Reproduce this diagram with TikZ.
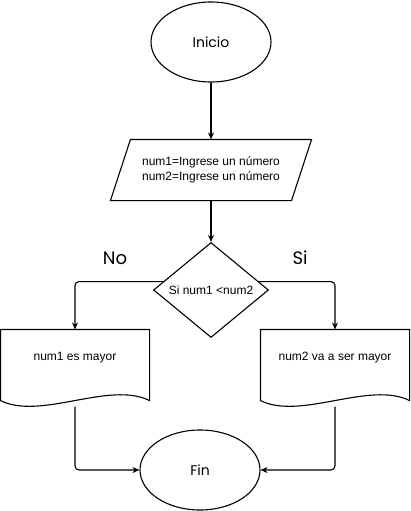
\documentclass[tikz,border=0pt]{standalone}
\usepackage{fontspec}
\setmainfont{Liberation Sans}
\newfontfamily\handfont{Poppins}
\usetikzlibrary{arrows.meta, positioning, shapes.geometric}
\tikzset{
    >={Stealth[length=7pt, width=6pt]},
    terminal/.style={ellipse, draw, minimum width=120pt, minimum height=80pt,
        font=\handfont\fontsize{14}{16}\selectfont},
    plain/.style={font=\fontsize{12}{15}\selectfont, align=center},
    decision/.style={diamond, draw, plain, inner sep=0pt,
        minimum width=115pt, minimum height=95pt},
    docbox/.style={plain, minimum width=148pt, minimum height=56pt},
    branch/.style={font=\handfont\fontsize{18}{20}\selectfont}
}
\begin{document}
\begin{tikzpicture}[x=1pt, y=-1pt, line width=1.1pt]
    \useasboundingbox (0,0) rectangle (411,511);
    \node[terminal] (inicio) at (211,42) {Inicio};
    \node[plain, minimum width=180pt, minimum height=60pt] (datos) at (211,170)
        {num1=Ingrese un número\\num2=Ingrese un número};
    \draw ([xshift=10pt]datos.north west) -- ([xshift=10pt]datos.north east)
        -- ([xshift=-10pt]datos.south east) -- ([xshift=-10pt]datos.south west) -- cycle;
    \node[decision] (cond) at (211,290) {Si num1 <num2};
    \node[branch] (no) at (115,258) {No};
    \node[branch] (si) at (300,258) {Si};
    \node[docbox] (may1) at (75,358) {num1 es mayor};
    \node[docbox] (may2) at (335,358) {num2 va a ser mayor};
    \foreach \b in {may1, may2}{
        \draw (\b.north west) -- (\b.north east) -- ([yshift=-14pt]\b.south east)
            .. controls +(-40,-20) and +(40,20) .. ([yshift=-14pt]\b.south west) -- cycle;
        \coordinate (\b-out) at ([yshift=-20pt]\b.south);
    }
    \node[terminal] (fin) at (200,470) {Fin};
    \draw[->] (inicio) -- (datos);
    \draw[->] (datos) -- (cond);
    \draw[->, rounded corners=4pt] (cond.170) -| (may1.north);
    \draw[->, rounded corners=4pt] (cond.10) -| (may2.north);
    \draw[->, rounded corners=4pt] (may1-out) |- (fin.west);
    \draw[->, rounded corners=4pt] (may2-out) |- (fin.east);
\end{tikzpicture}
\end{document}
